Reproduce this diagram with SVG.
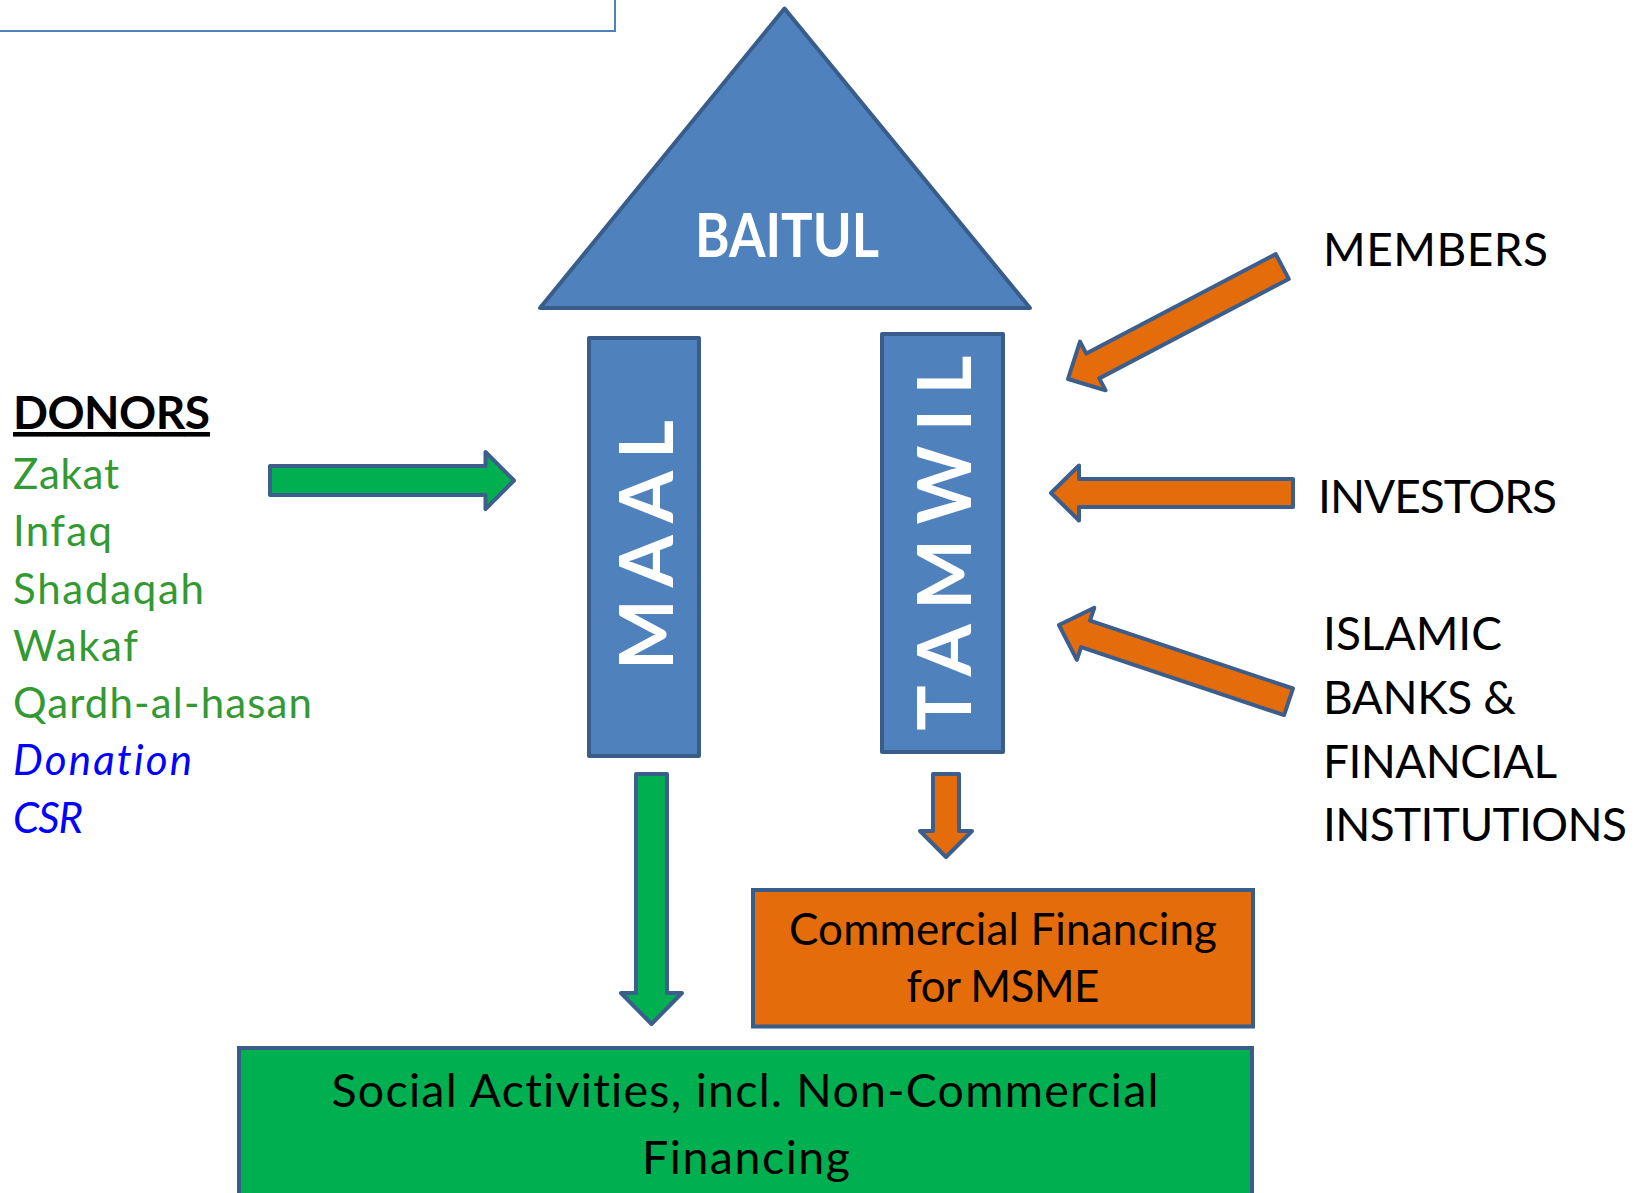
<svg xmlns="http://www.w3.org/2000/svg" width="1643" height="1193" viewBox="0 0 1643 1193">
  <style>
    .pillar { fill: #4F81BD; stroke: #385D8A; stroke-width: 4; stroke-linejoin: round; }
    .green-box { fill: #00B050; stroke: #385D8A; stroke-width: 4; }
    .orange-box { fill: #E46C0A; stroke: #385D8A; stroke-width: 4; }
    .arrow-green { fill: #00B050; stroke: #3C5E8C; stroke-width: 4; stroke-linejoin: round; }
    .arrow-orange { fill: #E46C0A; stroke: #3C5E8C; stroke-width: 4; stroke-linejoin: round; }
    text { font-family: Lato, "Liberation Sans", sans-serif; font-variant-ligatures: none; }
    .pillar-label { fill: #FFFFFF; font-weight: bold; font-size: 75px; text-anchor: middle; }
    .roof-label { fill: #FFFFFF; font-weight: bold; font-size: 61px; text-anchor: middle; }
    .source { fill: #339933; font-size: 42px; }
    .source-blue { fill: #0000FF; font-size: 42px; font-style: italic; }
    .heading { fill: #000000; font-size: 46px; font-weight: bold; text-decoration: underline; }
    .funder { fill: #000000; font-size: 46px; }
    .box-label { fill: #000000; text-anchor: middle; }
  </style>
  <defs>
    <!-- slanted/flat left-pointing block arrow, tip at origin -->
    <polygon id="left-arrow" points="0,0 28,-27.5 28,-14 242,-14 242,14 28,14 28,27.5"/>
  </defs>

  <!-- framed box at the top-left edge -->
  <rect x="-5" y="-5" width="620" height="36" fill="#FFFFFF" stroke="#4F81BD" stroke-width="2"/>

  <!-- roof -->
  <g id="baitul">
    <polygon class="pillar" points="784.5,8.5 540,308 1030,308"/>
    <text class="roof-label" x="787" y="257" textLength="184" lengthAdjust="spacingAndGlyphs">BAITUL</text>
  </g>

  <!-- pillars -->
  <g id="maal">
    <rect class="pillar" x="589" y="338" width="110" height="418"/>
    <text class="pillar-label" transform="translate(673,545) rotate(-90)" x="0" y="0" textLength="250">MAAL</text>
  </g>
  <g id="tamwil">
    <rect class="pillar" x="882" y="334" width="121" height="418"/>
    <text class="pillar-label" transform="translate(971,543) rotate(-90)" x="0" y="0" textLength="375">TAMWIL</text>
  </g>

  <!-- social sources -->
  <g id="donors">
    <text class="heading" x="13" y="429" textLength="197">DONORS</text>
    <text class="source" x="13" y="488.5" textLength="106">Zakat</text>
    <text class="source" x="13" y="546" textLength="99">Infaq</text>
    <text class="source" x="13" y="603.5" textLength="191">Shadaqah</text>
    <text class="source" x="13" y="660.5" textLength="125">Wakaf</text>
    <text class="source" x="13" y="718" textLength="299">Qardh-al-hasan</text>
    <text class="source-blue" x="13" y="775" textLength="179">Donation</text>
    <text class="source-blue" x="13" y="833" textLength="70">CSR</text>
  </g>

  <!-- commercial sources -->
  <g id="members">
    <text class="funder" x="1323" y="266" textLength="225">MEMBERS</text>
  </g>
  <g id="investors">
    <text class="funder" x="1318" y="512.5" textLength="239">INVESTORS</text>
  </g>
  <g id="islamic-banks">
    <text class="funder" x="1323" y="650" textLength="179">ISLAMIC</text>
    <text class="funder" x="1323" y="714" textLength="193">BANKS &amp;</text>
    <text class="funder" x="1323" y="777.5" textLength="234">FINANCIAL</text>
    <text class="funder" x="1323" y="841" textLength="304">INSTITUTIONS</text>
  </g>

  <!-- outputs -->
  <g id="commercial-financing">
    <rect class="orange-box" x="753" y="890" width="500" height="136.5"/>
    <text class="box-label" font-size="44" x="1003" y="945" textLength="428">Commercial Financing</text>
    <text class="box-label" font-size="44" x="1003" y="1001.7" textLength="193">for MSME</text>
  </g>
  <g id="social-activities">
    <rect class="green-box" x="239" y="1048" width="1013" height="160"/>
    <text class="box-label" font-size="46.5" x="745" y="1107" textLength="827">Social Activities, incl. Non-Commercial</text>
    <text class="box-label" font-size="46.5" x="746" y="1174" textLength="208">Financing</text>
  </g>

  <!-- flows -->
  <g id="connectors">
    <polygon class="arrow-green" points="270,466 485.5,466 485.5,452 514,480.5 485.5,509 485.5,495 270,495"/>
    <polygon class="arrow-green" points="636,774 667,774 667,993 682,993 651.5,1024 621,993 636,993"/>
    <polygon class="arrow-orange" points="933,774 959,774 959,831 972,831 946,857 920,831 933,831"/>
    <use class="arrow-orange" href="#left-arrow" transform="translate(1068,379) rotate(-27.7)"/>
    <use class="arrow-orange" href="#left-arrow" transform="translate(1051,493)"/>
    <use class="arrow-orange" href="#left-arrow" transform="translate(1059,625) rotate(18.5)"/>
  </g>
</svg>
